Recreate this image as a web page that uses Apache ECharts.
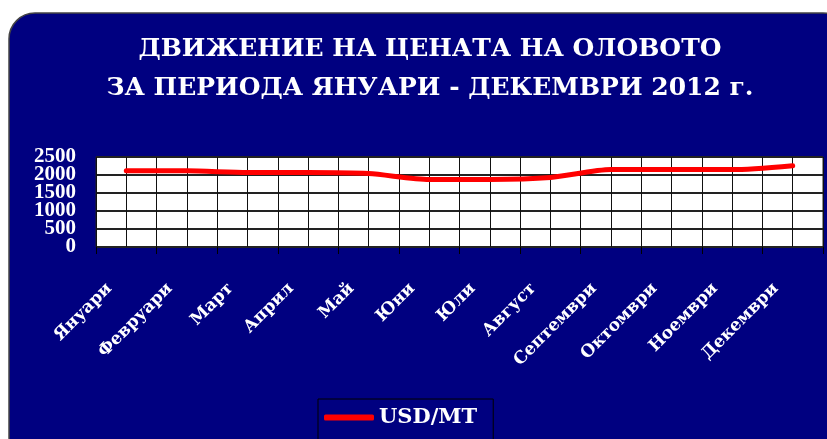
<!DOCTYPE html>
<html>
<head>
<meta charset="utf-8">
<script src="https://cdn.jsdelivr.net/npm/echarts@6/dist/echarts.min.js"></script>
<style>
  html, body { margin: 0; padding: 0; background: #fff; }
  #mychart { width: 827px; height: 439px; }
</style>
</head>
<body>
<div id="mychart"></div>
<script>
  var months = ['Януари', 'Февруари', 'Март', 'Април', 'Май', 'Юни', 'Юли', 'Август', 'Септември', 'Октомври', 'Ноември', 'Декември']
  var leadPrice = [2115, 2115, 2070, 2070, 2040, 1875, 1875, 1930, 2150, 2150, 2150, 2260]
  var seriesName = 'USD/MT'
  var titleText = 'ДВИЖЕНИЕ НА ЦЕНАТА НА ОЛОВОТО\nЗА ПЕРИОДА ЯНУАРИ - ДЕКЕМВРИ 2012 г.'

  var wideFont = '"DejaVu Serif", "Liberation Serif", serif'
  var font = '"Liberation Serif", "DejaVu Serif", serif'

  // labels drawn on two stacked axes so neighbouring ones are not dropped as overlapping
  function yLabel(even) {
    return {
      margin: 20,
      color: '#fff',
      fontFamily: font,
      fontWeight: 'bold',
      fontSize: 21,
      hideOverlap: false,
      showMinLabel: true,
      showMaxLabel: true,
      formatter: function (v) {
        return ((v % 1000 === 0) === even) ? String(v) : ''
      }
    }
  }

  var chart = echarts.init(document.getElementById('mychart'))
  chart.setOption({
    backgroundColor: '#fff',
    graphic: [
      {
        type: 'rect',
        z: -10,
        shape: { x: 9, y: 13, width: 840, height: 450, r: 26 },
        style: { fill: '#000080', stroke: '#444', lineWidth: 1.5 }
      }
    ],
    title: {
      text: titleText,
      left: 425,
      top: 25,
      textAlign: 'center',
      textStyle: {
        color: '#fff',
        fontFamily: wideFont,
        fontWeight: 'bold',
        fontSize: 25,
        lineHeight: 39
      }
    },
    grid: {
      left: 96,
      right: 4,
      top: 157,
      bottom: 192,
      show: true,
      backgroundColor: '#fff',
      borderColor: '#222',
      borderWidth: 1
    },
    legend: {
      left: 318,
      top: 399,
      padding: [8, 16, 12, 6],
      borderColor: '#000',
      borderWidth: 1,
      itemWidth: 50,
      itemHeight: 6,
      itemGap: 4,
      icon: 'roundRect',
      textStyle: {
        color: '#fff',
        fontFamily: wideFont,
        fontWeight: 'bold',
        fontSize: 21
      },
      data: [seriesName]
    },
    xAxis: [
      {
        type: 'category',
        data: months,
        boundaryGap: true,
        axisLine: { show: false },
        axisTick: { show: true, length: 7, lineStyle: { color: '#000', width: 1 } },
        splitLine: { show: false },
        axisLabel: {
          rotate: 45,
          margin: 22,
          padding: [0, 24, 0, 0],
          color: '#fff',
          fontFamily: wideFont,
          fontWeight: 'bold',
          fontSize: 17,
          interval: 0
        }
      },
      {
        type: 'value',
        min: 0,
        max: 24,
        interval: 1,
        show: true,
        axisLine: { show: false },
        axisTick: { show: false },
        axisLabel: { show: false },
        splitLine: { show: true, lineStyle: { color: '#111', width: 1 } }
      }
    ],
    yAxis: [
      {
        type: 'value',
        position: 'left',
        min: 0,
        max: 2500,
        interval: 500,
        axisLine: { show: false },
        axisTick: { show: false },
        splitLine: { lineStyle: { color: '#222', width: 2 } },
        axisLabel: yLabel(true)
      },
      {
        type: 'value',
        position: 'left',
        offset: 0,
        min: 0,
        max: 2500,
        interval: 500,
        axisLine: { show: false },
        axisTick: { show: false },
        splitLine: { show: false },
        axisLabel: yLabel(false)
      }
    ],
    series: [
      {
        name: seriesName,
        type: 'line',
        xAxisIndex: 0,
        yAxisIndex: 0,
        data: leadPrice,
        smooth: 0.25,
        showSymbol: false,
        symbol: 'none',
        lineStyle: { color: '#ff0000', width: 5, cap: 'round' },
        itemStyle: { color: '#ff0000' }
      }
    ]
  })
</script>
</body>
</html>
